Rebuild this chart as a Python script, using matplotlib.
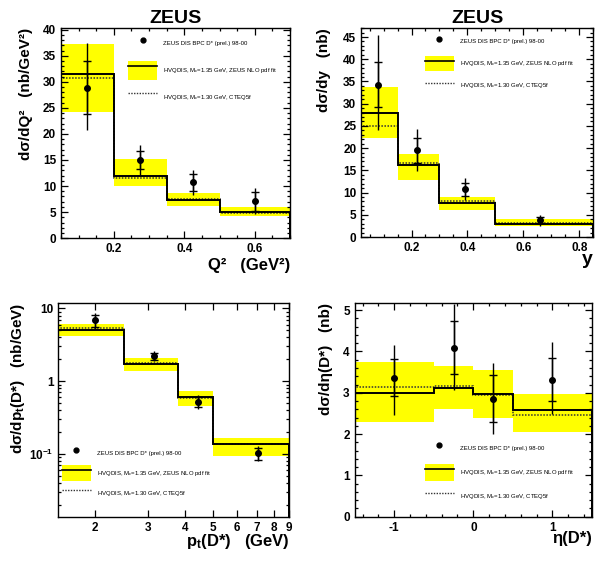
import matplotlib
matplotlib.use('Agg')
import matplotlib.pyplot as plt
from matplotlib.lines import Line2D
from matplotlib.patches import Patch
from matplotlib.ticker import MultipleLocator, FixedLocator, FixedFormatter, LogLocator, NullLocator, NullFormatter

plt.rcParams['font.family'] = ['Liberation Sans', 'DejaVu Sans']
plt.rcParams['axes.unicode_minus'] = False

# --- Q^2 panel ---
q2_edges = [0.05, 0.2, 0.35, 0.5, 0.7]
q2_x = [0.125, 0.275, 0.425, 0.6]
q2_data = [28.9, 15.0, 10.7, 7.1]
q2_stat = [5.1, 1.8, 1.6, 1.8]
q2_tot_dn = [8.1, 2.8, 2.4, 2.4]
q2_tot_up = [8.6, 2.8, 2.4, 2.5]
q2_theory = [31.5, 11.9, 7.3, 5.1]
q2_cteq = [30.8, 11.6, 7.5, 4.9]
q2_band_lo = [24.2, 10.0, 6.2, 4.3]
q2_band_hi = [37.2, 15.1, 8.7, 6.0]

# --- y panel ---
y_edges = [0.02, 0.15, 0.3, 0.5, 0.85]
y_x = [0.08, 0.22, 0.39, 0.66]
y_data = [34.3, 19.5, 10.7, 3.8]
y_stat = [5.1, 2.8, 1.5, 0.7]
y_tot_dn = [10.3, 4.7, 2.3, 1.3]
y_tot_up = [11.1, 4.8, 2.6, 1.2]
y_theory = [27.9, 16.1, 7.7, 2.9]
y_cteq = [24.9, 16.7, 8.0, 3.1]
y_band_lo = [22.3, 12.8, 6.0, 2.4]
y_band_hi = [33.7, 18.6, 9.0, 4.1]

# --- pt panel ---
pt_edges = [1.5, 2.5, 3.8, 5.0, 9.0]
pt_x = [2.0, 3.16, 4.42, 7.05]
pt_data = [6.9, 2.2, 0.52, 0.102]
pt_stat = [1.3, 0.27, 0.08, 0.019]
pt_tot_dn = [1.7, 0.32, 0.11, 0.022]
pt_tot_up = [1.8, 0.38, 0.12, 0.028]
pt_theory = [5.1, 1.71, 0.61, 0.135]
pt_cteq = [5.4, 1.79, 0.58, 0.137]
pt_band_lo = [4.15, 1.39, 0.45, 0.093]
pt_band_hi = [6.2, 2.11, 0.73, 0.167]

# --- eta panel ---
eta_edges = [-1.5, -0.5, 0.0, 0.5, 1.5]
eta_x = [-1.0, -0.25, 0.25, 1.0]
eta_data = [3.36, 4.09, 2.86, 3.32]
eta_stat = [0.45, 0.64, 0.56, 0.53]
eta_tot_dn = [0.89, 1.03, 0.87, 0.83]
eta_tot_up = [0.79, 1.06, 0.86, 0.91]
eta_theory = [2.99, 3.12, 2.96, 2.59]
eta_cteq = [3.14, 3.17, 2.94, 2.47]
eta_band_lo = [2.29, 2.60, 2.39, 2.06]
eta_band_hi = [3.75, 3.64, 3.56, 2.98]

leg_labels = ['ZEUS DIS BPC D* (prel.) 98-00',
              r'HVQDIS, M$\mathregular{_c}$=1.35 GeV, ZEUS NLO pdf fit',
              r'HVQDIS, M$\mathregular{_c}$=1.30 GeV, CTEQ5f']

fig = plt.figure(figsize=(5.98, 5.63), dpi=100)


def draw(ax, edges, x, data, stat, tdn, tup, th, cteq, blo, bhi):
    ax.stairs(bhi, edges, baseline=blo, fill=True, color='#ffff00', lw=0)
    ax.stairs(cteq, edges, color='#333333', lw=1.1, ls=(0, (1, 1)))
    ax.stairs(th, edges, color='black', lw=1.4)
    ax.errorbar(x, data, yerr=[tdn, tup], fmt='none', ecolor='black', elinewidth=1.0, capsize=0)
    ax.errorbar(x, data, yerr=stat, fmt='o', color='black', ms=4, elinewidth=1.0,
                capsize=3, capthick=1.0)
    for s in ax.spines.values():
        s.set_linewidth(1.0)
    ax.tick_params(which='both', direction='in', top=True, right=True, labelsize=8.5, width=0.9)
    ax.tick_params(which='major', length=5)
    ax.tick_params(which='minor', length=2.5)
    for t in ax.get_xticklabels() + ax.get_yticklabels():
        t.set_fontweight('bold')


def legend(ax, anchor, hh, sp):
    h = [Line2D([], [], marker='o', color='black', ls='none', ms=3.5),
         (Patch(facecolor='#ffff00', edgecolor='none'), Line2D([], [], color='black', lw=1.2)),
         Line2D([], [], color='#333333', lw=1.0, ls=(0, (1, 1)))]
    ax.legend(h, leg_labels, loc='upper left', bbox_to_anchor=anchor, frameon=False,
              fontsize=4.3, handlelength=4.8, handleheight=hh, labelspacing=sp,
              handletextpad=1.0, borderpad=0, borderaxespad=0)


def labels(ax, xl, yl, xly, ylx):
    ax.set_xlabel(xl, loc='right', fontsize=12, fontweight='bold')
    ax.set_ylabel(yl, loc='top', fontsize=11, fontweight='bold')
    ax.xaxis.set_label_coords(1.0, xly)
    ax.xaxis.label.set_va('baseline')
    ax.yaxis.set_label_coords(ylx, 1.0)


# panel 1
ax1 = fig.add_axes([0.102, 0.577, 0.383, 0.373])
draw(ax1, q2_edges, q2_x, q2_data, q2_stat, q2_tot_dn, q2_tot_up, q2_theory, q2_cteq, q2_band_lo, q2_band_hi)
ax1.set_xlim(0.05, 0.7)
ax1.set_ylim(0, 40.3)
ax1.xaxis.set_major_locator(MultipleLocator(0.2))
ax1.xaxis.set_minor_locator(MultipleLocator(0.05))
ax1.yaxis.set_major_locator(MultipleLocator(5))
ax1.yaxis.set_minor_locator(MultipleLocator(1))
labels(ax1, 'Q²   (GeV²)', 'dσ/dQ²   (nb/GeV²)', -0.15, -0.122)
legend(ax1, (0.294, 0.972), 4.5, 1.34)
ax1.set_title('ZEUS', fontsize=14, fontweight='bold', pad=4)

# panel 2
ax2 = fig.add_axes([0.604, 0.579, 0.388, 0.371])
draw(ax2, y_edges, y_x, y_data, y_stat, y_tot_dn, y_tot_up, y_theory, y_cteq, y_band_lo, y_band_hi)
ax2.set_xlim(0.02, 0.85)
ax2.set_ylim(0, 47)
ax2.xaxis.set_major_locator(MultipleLocator(0.2))
ax2.xaxis.set_minor_locator(MultipleLocator(0.05))
ax2.yaxis.set_major_locator(MultipleLocator(5))
ax2.yaxis.set_minor_locator(MultipleLocator(1))
labels(ax2, 'y', 'dσ/dy   (nb)', -0.127, -0.128)
ax2.xaxis.label.set_fontsize(14)
legend(ax2, (0.275, 0.973), 3.67, 1.05)
ax2.set_title('ZEUS', fontsize=14, fontweight='bold', pad=4)

# panel 3
ax3 = fig.add_axes([0.0975, 0.0823, 0.386, 0.380])
ax3.set_xscale('log')
ax3.set_yscale('log')
draw(ax3, pt_edges, pt_x, pt_data, pt_stat, pt_tot_dn, pt_tot_up, pt_theory, pt_cteq, pt_band_lo, pt_band_hi)
ax3.set_xlim(1.5, 9.0)
ax3.set_ylim(0.0137, 12)
ax3.xaxis.set_major_locator(FixedLocator([2, 3, 4, 5, 6, 7, 8, 9]))
ax3.xaxis.set_major_formatter(FixedFormatter(['2', '3', '4', '5', '6', '7', '8', '9']))
ax3.xaxis.set_minor_locator(NullLocator())
ax3.xaxis.set_minor_formatter(NullFormatter())
ax3.yaxis.set_major_locator(FixedLocator([0.1, 1, 10]))
ax3.yaxis.set_major_formatter(FixedFormatter([r'10$\mathregular{^{-1}}$', '1', '10']))
ax3.yaxis.set_minor_locator(LogLocator(subs=range(2, 10)))
ax3.yaxis.set_minor_formatter(NullFormatter())
for t in ax3.get_xticklabels() + ax3.get_yticklabels():
    t.set_fontweight('bold')
labels(ax3, r'p$\mathregular{_t}$(D*)   (GeV)', r'dσ/dp$\mathregular{_t}$(D*)   (nb/GeV)', -0.137, -0.134)
legend(ax3, (0.016, 0.333), 3.5, 0.84)

# panel 4
ax4 = fig.add_axes([0.593, 0.0823, 0.397, 0.380])
draw(ax4, eta_edges, eta_x, eta_data, eta_stat, eta_tot_dn, eta_tot_up, eta_theory, eta_cteq, eta_band_lo, eta_band_hi)
ax4.set_xlim(-1.5, 1.5)
ax4.set_ylim(0, 5.18)
ax4.xaxis.set_major_locator(MultipleLocator(1))
ax4.xaxis.set_minor_locator(MultipleLocator(0.2))
ax4.yaxis.set_major_locator(MultipleLocator(1))
ax4.yaxis.set_minor_locator(MultipleLocator(0.2))
labels(ax4, 'η(D*)', 'dσ/dη(D*)   (nb)', -0.125, -0.09)
legend(ax4, (0.297, 0.359), 4.0, 1.17)

fig.savefig('out.png', dpi=100)
